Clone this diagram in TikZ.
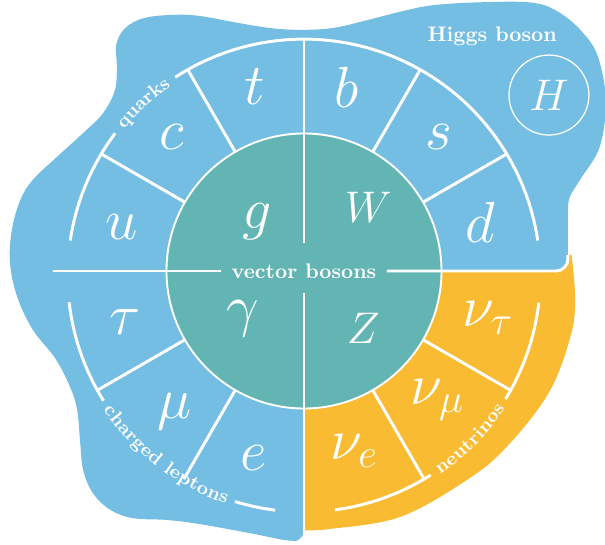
\RequirePackage{fix-cm}
\documentclass[tikz,border=0pt]{standalone}
\usetikzlibrary{decorations.text}
\definecolor{chargeblue}{RGB}{116,190,227}
\definecolor{bosonteal}{RGB}{98,181,178}
\definecolor{nuorange}{RGB}{248,187,50}
\tikzset{
  divider/.style={white, line width=1.4pt},
  shell/.style={white, line width=1.4pt},
  heavy/.style={text=white, inner sep=0pt, font=\fontsize{27.5}{30}\selectfont},
  capital/.style={text=white, inner sep=0pt, font=\fontsize{21}{25}\selectfont},
  family/.style={decorate, decoration={text along path, text color=white,
    text align=center, raise=-2.3pt, text={|\small\bfseries|#1}}}
}
\begin{document}
\begin{tikzpicture}[x=1cm,y=1cm,line join=round]
  \useasboundingbox (-5.067,-4.567) rectangle (5.017,4.517);
  % neutrino quarter, under the axis on the right
  \fill[nuorange] (0,0.2) -- plot[smooth,tension=0.6] coordinates {
    (4.46,0.27) (4.52,-0.48) (4.44,-1.10) (4.08,-2.03) (3.38,-2.93)
    (2.72,-3.48) (1.60,-4.10) (0.43,-4.30) (0,-4.32)} -- cycle;
  % blue blob: quarks, charged leptons and the Higgs corner
  \fill[chargeblue] plot[smooth,tension=0.6] coordinates {
    (4.40,0.43) (4.40,0.97) (4.43,1.23) (4.60,1.52) (4.93,2.07) (5.03,2.85)
    (4.90,3.57) (4.65,3.97) (4.27,4.30) (3.82,4.47) (2.98,4.48) (2.15,4.43)
    (1.60,4.32) (1.05,4.18) (0.48,4.05) (-0.07,4.02) (-0.57,4.05) (-1.18,4.15)
    (-1.73,4.25) (-2.15,4.27) (-2.65,4.22) (-2.98,4.05) (-3.13,3.77) (-3.12,3.43)
    (-3.15,3.02) (-3.35,2.63) (-3.68,2.30) (-4.12,1.90) (-4.52,1.52) (-4.73,1.18)
    (-4.87,0.68) (-4.90,0.13) (-4.78,-0.43) (-4.52,-0.98) (-4.15,-1.45) (-3.90,-1.93)
    (-3.78,-2.32) (-3.73,-2.87) (-3.68,-3.32) (-3.52,-3.70) (-3.23,-3.98) (-2.85,-4.12)
    (-2.28,-4.15) (-1.73,-4.22) (-0.90,-4.37) (-0.35,-4.48) (-0.13,-4.50)}
    [rounded corners=0.15cm] -- (0,-4.47) -- (0,0) -- (4.4,0) -- cycle;
  % vector bosons in the middle
  \filldraw[fill=bosonteal, draw=white, line width=0.9pt] (0,0) circle (2.292);
  \node[font=\bfseries, text=white, inner sep=0.17cm] (vb) at (0,0) {vector bosons};
  \draw[divider] (-4.183,0) -- (vb.west);
  \draw[divider] (vb.east) [rounded corners=0.2cm] -- (4.4,0) -- (4.4,0.27);
  \draw[divider] (0,3.865) -- (0,0.467);
  \draw[divider] (0,-0.367) -- (0,-4.6);
  \foreach \a in {30,60,120,150,210,240,300,330}
    \draw[divider] (\a:2.292) -- (\a:{3.94-0.075*sin(\a)});
  % outer rims, broken where the family names sit
  \coordinate (rim) at (0,-0.075);
  \foreach \s/\e in {8.5/123, 143/171.5, 186.5/212, 253/263, 277.5/302.4, 328.5/353.4}
    \draw[shell] (rim) ++(\s:3.94) arc[start angle=\s, end angle=\e, radius=3.94];
  \path[family=quarks] (rim) ++(143:3.94) arc[start angle=143, end angle=123, radius=3.94];
  \path[family={charged leptons}] (rim) ++(212:3.94) arc[start angle=212, end angle=253, radius=3.94];
  \path[family=neutrinos] (rim) ++(302.4:3.94) arc[start angle=302.4, end angle=328.5, radius=3.94];
  % quarks
  \node[heavy] (qt) at (-0.817,3.067) {$t$};
  \node[heavy] (qb) at (0.712,3.067) {$b$};
  \node[heavy] (qc) at (-2.205,2.238) {$c$};
  \node[heavy] (qs) at (2.25,2.228) {$s$};
  \node[heavy] (qu) at (-3.038,0.738) {$u$};
  \node[heavy] (qd) at (2.933,0.805) {$d$};
  % gauge bosons
  \node[heavy] (bg) at (-0.788,0.822) {$g$};
  \node[capital] (bW) at (1.073,1.058) {$W$};
  \node[heavy] (bgamma) at (-1.012,-0.788) {$\gamma$};
  \node[capital] (bZ) at (0.988,-0.955) {$Z$};
  % leptons
  \node[heavy] (ltau) at (-2.983,-0.845) {$\tau$};
  \node[heavy] (lmu) at (-2.15,-2.345) {$\mu$};
  \node[heavy] (le) at (-0.845,-3.122) {$e$};
  \node[heavy] (ntau) at (3.067,-0.783) {$\nu_\tau$};
  \node[heavy] (nmu) at (2.225,-2.15) {$\nu_\mu$};
  \node[heavy] (ne) at (0.833,-3.0) {$\nu_e$};
  % Higgs
  \node[font=\bfseries, text=white] (hlabel) at (3.138,3.917) {Higgs boson};
  \node[capital, draw=white, line width=0.6pt, circle, minimum size=1.333cm]
    (higgs) at (4.083,2.933) {$H$};
\end{tikzpicture}
\end{document}
